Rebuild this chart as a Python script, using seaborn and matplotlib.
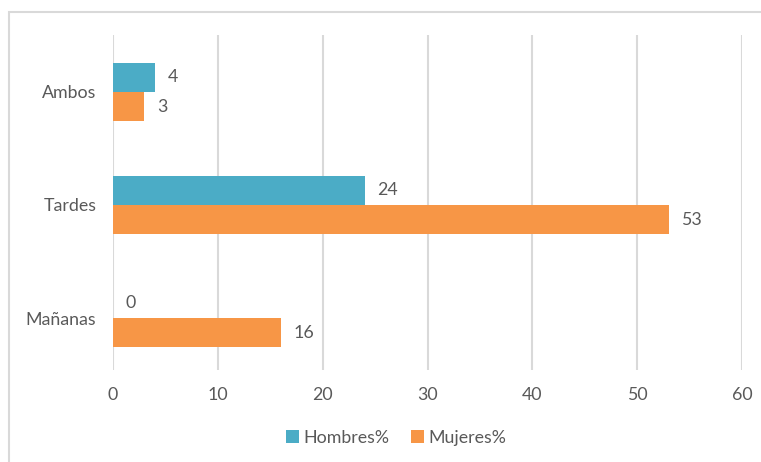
import matplotlib
matplotlib.use("Agg")
import matplotlib.pyplot as plt
import seaborn as sns
import pandas as pd
from matplotlib.patches import Rectangle

# Data
categories = ["Ambos", "Tardes", "Mañanas"]
series_names = ["Hombres%", "Mujeres%"]
hombres = [4, 24, 0]
mujeres = [3, 53, 16]
x_ticks = [0, 10, 20, 30, 40, 50, 60]

colors = {"Hombres%": "#4BACC6", "Mujeres%": "#F79646"}
text_gray = "#595959"
grid_gray = "#D9D9D9"
fs = 12.8

df = pd.DataFrame({
    "Turno": categories * 2,
    "Serie": [series_names[0]] * 3 + [series_names[1]] * 3,
    "Valor": hombres + mujeres,
})

sns.set_style("white")
plt.rcParams["font.family"] = ["Lato", "DejaVu Sans"]

W, H = 761, 462
fig = plt.figure(figsize=(W / 100, H / 100), dpi=100)

# outer chart frame (partly clipped by the figure edge)
fig.patches.append(Rectangle((9 / W, -0.1), 1.2, 1 - 12 / H + 0.1,
                             transform=fig.transFigure, fill=False,
                             edgecolor=grid_gray, linewidth=1.5, zorder=0))

ax = fig.add_axes([113 / W, 1 - 370 / H, 629 / W, 335 / H])
sns.barplot(data=df, y="Turno", x="Valor", hue="Serie", order=categories,
            hue_order=series_names, palette=colors, orient="h",
            width=0.515, gap=0, saturation=1, linewidth=0, ax=ax, legend=True)

ax.set_xlim(0, 60)
ax.set_ylim(2.46, -0.504)
ax.set_xticks(x_ticks)
ax.set_xticklabels([str(t) for t in x_ticks], color=text_gray, fontsize=fs)
ax.tick_params(axis="x", length=0, pad=12)
ax.tick_params(axis="y", length=0, pad=12, labelcolor=text_gray, labelsize=fs)
ax.set_xlabel("")
ax.set_ylabel("")
for s in ax.spines.values():
    s.set_visible(False)
ax.xaxis.grid(True, color=grid_gray, linewidth=1.5)
ax.set_axisbelow(True)

for cont in ax.containers:
    ax.bar_label(cont, labels=[f"{v:g}" for v in cont.datavalues],
                 padding=9, color=text_gray, fontsize=fs)

leg = ax.legend(loc="center",
                bbox_to_anchor=((396 - 113) / 629, (370 - 438) / 335),
                ncol=2, frameon=False, handlelength=0.75, handleheight=0.75,
                handletextpad=0.25, columnspacing=1.2, fontsize=fs)
for t in leg.get_texts():
    t.set_color(text_gray)

fig.savefig("out.png", dpi=100)
